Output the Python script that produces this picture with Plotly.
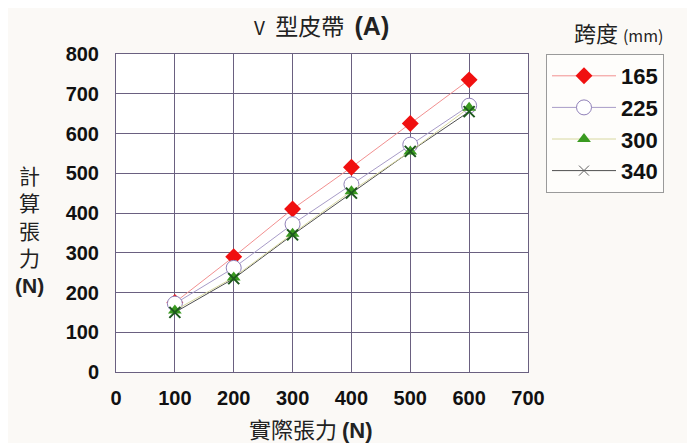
import plotly.graph_objects as go

x_vals = [100, 200, 300, 400, 500, 600]
s165 = [175, 290, 410, 515, 625, 735]
s225 = [172, 262, 372, 472, 572, 670]
s300 = [155, 238, 348, 455, 555, 665]
s340 = [150, 235, 345, 450, 555, 655]
x_ticks = [0, 100, 200, 300, 400, 500, 600, 700]
y_ticks = [0, 100, 200, 300, 400, 500, 600, 700, 800]

CJK = "Noto Sans CJK TC"
NUM = "Liberation Sans"
OFF = 8  # page body margin

# plot area in screen pixels
PL, PR, PT, PB = 116, 528, 54, 372

fig = go.Figure()
fig.add_trace(go.Scatter(x=x_vals, y=s165, name="165", mode="lines+markers",
                         line=dict(color="#f29090", width=1),
                         marker=dict(symbol="diamond", size=13, color="#f01010")))
fig.add_trace(go.Scatter(x=x_vals, y=s225, name="225", mode="lines+markers",
                         line=dict(color="#a89cc8", width=1),
                         marker=dict(symbol="circle", size=15, color="white",
                                     line=dict(color="#9080b8", width=1))))
fig.add_trace(go.Scatter(x=x_vals, y=s340, name="340", mode="lines+markers",
                         line=dict(color="#505050", width=1),
                         marker=dict(symbol="x-thin", size=10, line=dict(color="#606060", width=1)),
                         legendrank=1004))
fig.add_trace(go.Scatter(x=x_vals, y=s300, name="300", mode="lines+markers",
                         line=dict(color="#d8d8a0", width=1),
                         marker=dict(symbol="triangle-up", size=12, color="#3a9a20"),
                         legendrank=1003))
fig.add_trace(go.Scatter(x=x_vals, y=s340, mode="markers", showlegend=False,
                         marker=dict(symbol="x-thin", size=11, line=dict(color="#1e5a1e", width=2))))

fig.update_layout(
    width=695 - OFF, height=443 - OFF,
    paper_bgcolor="#fbf9f6", plot_bgcolor="white",
    margin=dict(l=PL - OFF, r=695 - PR, t=PT - OFF, b=443 - PB),
    showlegend=True,
    legend=dict(x=(546 - PL) / (PR - PL), y=1.0, xanchor="left", yanchor="top",
                bgcolor="#fefdfb", bordercolor="#9a9a9a", borderwidth=1,
                font=dict(family=NUM, size=22, color="#111", weight="bold"),
                itemwidth=64, tracegroupgap=0, traceorder="normal"),
    xaxis=dict(range=[0, 700], tickvals=x_ticks, showgrid=True, gridcolor="#6a6080",
               gridwidth=1, zeroline=False, showline=True, linecolor="#6a6080", mirror=True,
               ticks="", tickfont=dict(family=NUM, size=20, color="#111", weight="bold"),
               ticklabelstandoff=8),
    yaxis=dict(range=[0, 800], tickvals=y_ticks, showgrid=True, gridcolor="#6a6080",
               gridwidth=1, zeroline=False, showline=True, linecolor="#6a6080", mirror=True,
               ticks="", tickfont=dict(family=NUM, size=20, color="#111", weight="bold"),
               ticklabelstandoff=12),
)


def ann(text, px, py, size, family=CJK, **kw):
    fig.add_annotation(text=text, x=(px - PL) / (PR - PL), y=(PB - py) / (PB - PT),
                       xref="paper", yref="paper", showarrow=False,
                       xanchor="center", yanchor="middle",
                       font=dict(family=family, size=size, color="#222"), **kw)


ann("<span style='font-size:19px'>V</span>  型皮帶  <b style='font-size:25px;font-family:Liberation Sans'>(A)</b>",
    321, 25, 23)
ann("跨度 <span style='font-size:16px'>(mm)</span>", 618, 32, 22)
ann("實際張力 <b style='font-family:Liberation Sans'>(N)</b>", 310, 428, 22)
ann("計<br>算<br>張<br>力<br><b style='font-family:Liberation Sans'>(N)</b>", 29, 228, 21)

fig.write_html("out.html")
